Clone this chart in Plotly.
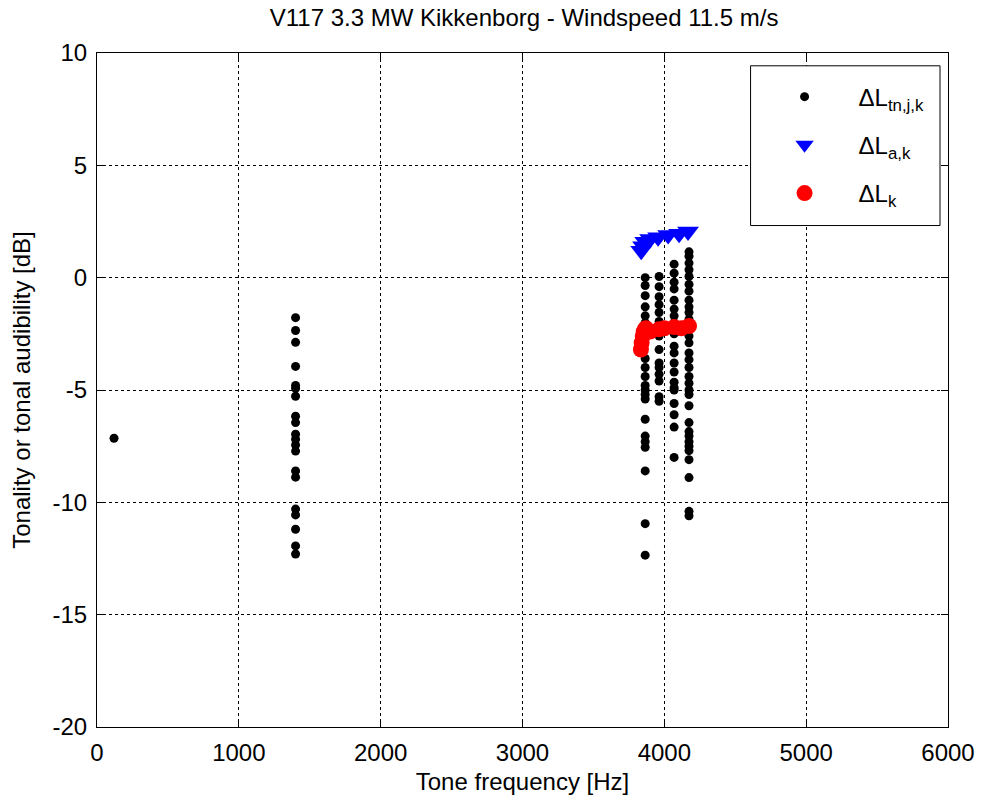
import plotly.graph_objects as go

# ΔL_tn,j,k points (frequency Hz, dB)
tn_freq = ([120] +
           [1400] * 20 +
           [3865] * 21 +
           [3963] * 14 +
           [4069] * 20 +
           [4174] * 32)
tn_val = ([-7.15] +
          [-1.78, -2.35, -2.88, -3.95, -4.93, -4.8, -5.28, -6.17, -6.45, -6.97,
           -7.19, -7.45, -7.72, -8.6, -8.88, -10.3, -10.56, -11.2, -11.94, -12.3] +
          [0.0, -0.35, -0.8, -1.3, -1.7, -2.0, -3.6, -4.0, -4.4, -4.8, -5.0,
           -5.2, -5.4, -6.3, -7.05, -7.3, -7.55, -8.6, -10.95, -12.35, -2.6] +
          [0.05, -0.4, -0.85, -1.2, -1.55, -1.95, -3.2, -3.8, -4.0, -4.3,
           -4.6, -5.3, -5.5, -2.6] +
          [0.6, 0.2, -0.2, -0.5, -1.0, -1.4, -1.7, -2.0, -3.05, -3.35,
           -3.8, -4.2, -4.65, -5.0, -6.1, -6.65, -8.0, -2.5, -4.9, -5.6] +
          [1.15, 0.95, 0.65, 0.35, 0.05, -0.3, -0.6, -1.0, -1.3, -1.55,
           -1.85, -2.6, -2.9, -3.35, -3.65, -4.0, -4.4, -4.7, -5.0, -5.2,
           -5.7, -6.45, -6.85, -7.05, -7.3, -7.5, -7.7, -8.1, -8.9, -10.4,
           -10.6, -2.2])

# ΔL_a,k points
a_freq = [3837, 3850, 3865, 3900, 3956, 4027, 4104, 4167]
a_val = [1.2, 1.4, 1.6, 1.72, 1.8, 1.9, 1.95, 2.05]

# ΔL_k points
k_freq = [3835, 3840, 3848, 3855, 3862, 3870, 3900, 3963, 4000, 4069, 4120, 4174]
k_val = [-3.2, -2.9, -2.6, -2.4, -2.3, -2.25, -2.4, -2.3, -2.25, -2.2, -2.25, -2.15]

x_ticks = [0, 1000, 2000, 3000, 4000, 5000, 6000]
x_labels = ["0", "1000", "2000", "3000", "4000", "5000", "6000"]
y_ticks = [10, 5, 0, -5, -10, -15, -20]
y_labels = ["10", "5", "0", "-5", "-10", "-15", "-20"]

FONT = "Liberation Sans, Arial, sans-serif"

fig = go.Figure()
fig.add_trace(go.Scatter(x=tn_freq, y=tn_val, mode="markers", legendgroup="a",
                         marker=dict(color="black", size=9, symbol="circle"),
                         name="ΔL<sub>tn,j,k</sub>"))
fig.add_trace(go.Scatter(x=a_freq, y=a_val, mode="markers", legendgroup="b",
                         marker=dict(color="#0000ff", size=19, symbol="triangle-down"),
                         name="ΔL<sub>a,k</sub>"))
fig.add_trace(go.Scatter(x=k_freq, y=k_val, mode="markers", legendgroup="c",
                         marker=dict(color="#ff0000", size=16, symbol="circle"),
                         name="ΔL<sub>k</sub>"))

axis_common = dict(
    showline=True, linecolor="black", linewidth=1, mirror="ticks",
    ticks="inside", ticklen=7, tickcolor="black",
    showgrid=True, gridcolor="black", griddash="dot", gridwidth=1,
    zeroline=False, tickfont=dict(family=FONT, size=24, color="black"),
)

fig.update_layout(
    width=987, height=803,
    margin=dict(l=97, r=36, t=53, b=74),
    paper_bgcolor="white", plot_bgcolor="white",
    title=dict(text="V117 3.3 MW Kikkenborg - Windspeed 11.5 m/s",
               x=0.531, xanchor="center", y=0.978, yanchor="middle",
               font=dict(family=FONT, size=24, color="black")),
    xaxis=dict(range=[0, 6000], tickvals=x_ticks, ticktext=x_labels,
               ticklabelstandoff=4,
               title=dict(text="Tone frequency [Hz]", standoff=8,
                          font=dict(family=FONT, size=24, color="black")),
               **axis_common),
    yaxis=dict(range=[-20, 10], tickvals=y_ticks, ticktext=y_labels,
               ticklabelstandoff=4,
               title=dict(text="Tonality or tonal audibility [dB]", standoff=15,
                          font=dict(family=FONT, size=24, color="black")),
               **axis_common),
    legend=dict(x=0.768, y=0.968, xanchor="left", yanchor="top",
                bgcolor="rgba(0,0,0,0)", borderwidth=0,
                font=dict(family=FONT, size=24, color="black"),
                tracegroupgap=14, itemwidth=98),
    shapes=[dict(type="rect", xref="paper", yref="paper",
                 x0=0.768, x1=0.9906, y0=0.744, y1=0.981,
                 line=dict(color="black", width=1), fillcolor="white",
                 layer="above")],
    showlegend=True,
)

fig.write_html("out.html")
